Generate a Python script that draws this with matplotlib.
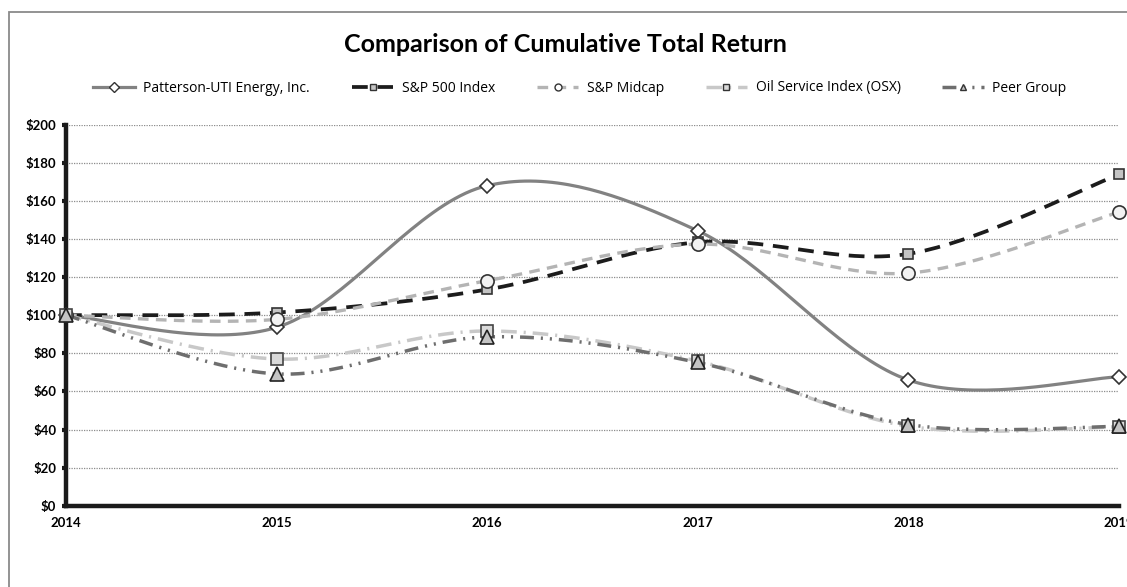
import numpy as np
import matplotlib
matplotlib.use("Agg")
import matplotlib.pyplot as plt
from matplotlib.patches import Rectangle
from matplotlib.lines import Line2D

plt.rcParams['font.family'] = ['Lato', 'DejaVu Sans']

years = [2014, 2015, 2016, 2017, 2018, 2019]
series_names = ["Patterson-UTI Energy, Inc.", "S&P 500 Index", "S&P Midcap",
                "Oil Service Index (OSX)", "Peer Group"]
patterson = [100, 93.6, 168.0, 144.3, 66.0, 67.6]
sp500 = [100, 101.4, 113.5, 138.3, 132.2, 173.9]
midcap = [100, 97.8, 118.1, 137.3, 122.1, 154.1]
osx = [100, 77.0, 91.7, 75.9, 41.7, 41.4]
peer = [100, 69.2, 88.6, 75.2, 42.6, 41.6]
y_ticks = [0, 20, 40, 60, 80, 100, 120, 140, 160, 180, 200]


def smooth(xs, ys, n=40):
    """Excel-style smoothed line (Catmull-Rom Bezier)."""
    xs = np.asarray(xs, float)
    ys = np.asarray(ys, float)
    P = np.column_stack([xs, ys])
    out = []
    m = len(P)
    for i in range(m - 1):
        p0 = P[i - 1] if i > 0 else P[i]
        p1 = P[i]
        p2 = P[i + 1]
        p3 = P[i + 2] if i + 2 < m else P[i + 1]
        c1 = p1 + (p2 - p0) / 6.0
        c2 = p2 - (p3 - p1) / 6.0
        t = np.linspace(0, 1, n)[:, None]
        seg = ((1 - t) ** 3) * p1 + 3 * ((1 - t) ** 2) * t * c1 + 3 * (1 - t) * t ** 2 * c2 + t ** 3 * p2
        if i > 0:
            seg = seg[1:]
        out.append(seg)
    out = np.vstack(out)
    return out[:, 0], out[:, 1]


W, H = 1127, 587
fig = plt.figure(figsize=(W / 100, H / 100), dpi=100)

# outer chart frame
fig.patches.append(Rectangle((8.5 / W, -0.1), 1.2, (H - 11.5) / H + 0.1,
                             transform=fig.transFigure, fill=False,
                             edgecolor='#8a8a8a', linewidth=1.3))

left, right, top, bottom = 66, 1119, 124.7, 505.7
ax = fig.add_axes([left / W, (H - bottom) / H, (right - left) / W, (bottom - top) / H])

styles = [
    dict(color='#828282', lw=2.3, marker='D', ms=7.5, mfc='white', mec='#333333', dashes=None),
    dict(color='#1c1c1c', lw=2.7, marker='s', ms=7.5, mfc='#c4c4c4', mec='#333333', dashes=(4.2, 2.6)),
    dict(color='#b4b4b4', lw=2.4, marker='o', ms=9.5, mfc='#f2f2f2', mec='#333333', dashes=(3.2, 2.2)),
    dict(color='#c8c8c8', lw=2.5, marker='s', ms=9, mfc='#dadada', mec='#444444', dashes=(4.5, 2.0, 0.6, 2.0)),
    dict(color='#6e6e6e', lw=2.5, marker='^', ms=9.5, mfc='#c4c4c4', mec='#222222', dashes=(4.0, 2.0, 0.6, 2.0, 0.6, 2.0)),
]
data = [patterson, sp500, midcap, osx, peer]

for name, vals, st in zip(series_names, data, styles):
    sx, sy = smooth(years, vals)
    kw = dict(color=st['color'], lw=st['lw'], solid_capstyle='butt', dash_capstyle='butt', zorder=3)
    if st['dashes'] is None:
        ax.plot(sx, sy, ls='-', **kw)
    else:
        ax.plot(sx, sy, dashes=st['dashes'], **kw)
    ax.plot(years, vals, ls='none', marker=st['marker'], ms=st['ms'], mfc=st['mfc'],
            mec=st['mec'], mew=1.2, zorder=4, clip_on=False)

# legend handles
handles = []
for name, st in zip(series_names, styles):
    kw = dict(color=st['color'], lw=st['lw'], marker=st['marker'], ms=5,
              mfc=st['mfc'] if st['mfc'] != '#f2f2f2' else 'white', mec='#333333', mew=1.0)
    if st['dashes'] is None:
        h = Line2D([], [], ls='-', **kw)
    else:
        h = Line2D([], [], dashes=st['dashes'], **kw)
    handles.append(h)
fig.legend(handles, series_names, loc='center', bbox_to_anchor=(580 / W, (H - 88) / H), ncol=5,
           frameon=False, handlelength=3.0, columnspacing=3.0, handletextpad=0.6,
           prop={'family': 'Open Sans', 'size': 10})

ax.set_xlim(2014, 2019)
ax.set_ylim(0, 200)
ax.set_yticks(y_ticks)
ax.set_yticklabels([f"${v}" for v in y_ticks], fontweight='bold', fontsize=9.5)
ax.set_xticks(years)
ax.set_xticklabels([str(y) for y in years], fontweight='bold', fontsize=9.5)
ax.yaxis.grid(True, color='#8c8c8c', linestyle=(0, (1, 1)), linewidth=0.9)
ax.set_axisbelow(True)
for s in ['top', 'right']:
    ax.spines[s].set_visible(False)
for s in ['left', 'bottom']:
    ax.spines[s].set_linewidth(3.2)
    ax.spines[s].set_color('#1a1a1a')
ax.tick_params(axis='y', direction='out', length=3, width=3, color='#1a1a1a', pad=4)
ax.tick_params(axis='x', length=0, pad=8)
for lbl in ax.get_xticklabels():
    lbl.set_clip_on(False)

fig.text(565 / W, (H - 45) / H, "Comparison of Cumulative Total Return", ha='center', va='center',
         fontsize=18, fontweight='bold')

fig.savefig('out.png', dpi=100)
